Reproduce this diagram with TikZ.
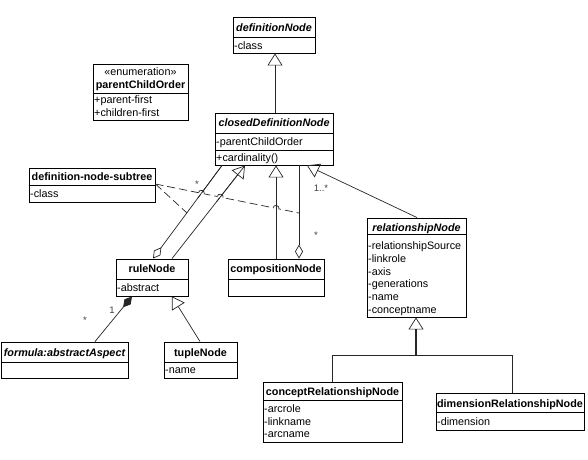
\documentclass[tikz,border=0pt]{standalone}
\usepackage{fontspec}
\setmainfont{Liberation Sans}
\usetikzlibrary{arrows.meta,fit,intersections,calc}
\newcommand\umlbox[5]{%
  \coordinate (#1-a) at (#2,#3); \coordinate (#1-b) at (#4,#5);
  \node[box, fit=(#1-a)(#1-b)] (#1) {};}
\begin{document}
\begin{tikzpicture}[x=1pt,y=-1pt,
  every node/.style={font=\fontsize{10.8}{12.8}\selectfont, inner sep=0pt},
  box/.style={draw=black, line width=0.9pt, inner sep=0pt},
  hdr/.style={anchor=base, font=\fontsize{10.8}{12.8}\selectfont\bfseries},
  ihdr/.style={anchor=base, font=\fontsize{10.8}{12.8}\selectfont\bfseries\itshape},
  attr/.style={anchor=base west},
  sepl/.style={draw=black, line width=0.8pt},
  conn/.style={draw=black!85, line width=0.7pt},
  gen/.style={conn, -{Triangle[open, width=15pt, length=12pt]}},
  agg/.style={conn, -{Diamond[open, width=8pt, length=14pt]}},
  comp/.style={conn, -{Diamond[width=8pt, length=14pt]}},
  mult/.style={font=\fontsize{9.5}{10}\selectfont, text=black!75},
  assoc/.style={conn, dash pattern=on 8pt off 4pt},
  hop/.style={conn},
]
\useasboundingbox (0,0) rectangle (588,459);
\fill[white] (0,0) rectangle (588,459);

% ---------- classes ----------
\umlbox{dn}{233}{17}{315}{53}
\draw[sepl] (dn.west |- 0,37) -- (dn.east |- 0,37);
\node[ihdr] (dnh) at (274,31) {definitionNode};
\node[attr] (dna) at (234,49) {-class};

\umlbox{pco}{93}{64}{188}{120}
\draw[sepl] (pco.west |- 0,93) -- (pco.east |- 0,93);
\node[anchor=base] (pcos) at (140.5,75) {«enumeration»};
\node[hdr] (pcoh) at (140.5,88) {parentChildOrder};
\node[attr] (pcoa) at (94,103) {+parent-first};
\node[attr] (pcob) at (94,116) {+children-first};

\umlbox{cdn}{215}{113}{333}{165}
\draw[sepl] (cdn.west |- 0,133) -- (cdn.east |- 0,133);
\draw[sepl] (cdn.west |- 0,150) -- (cdn.east |- 0,150);
\node[ihdr] (cdnh) at (274,126) {closedDefinitionNode};
\node[attr] (cdna) at (216,145) {-parentChildOrder};
\node[attr] (cdnb) at (216,161) {+cardinality()};

\umlbox{sub}{29}{168}{155}{202}
\draw[sepl] (sub.west |- 0,185) -- (sub.east |- 0,185);
\node[hdr] (subh) at (92,180) {definition-node-subtree};
\node[attr] (suba) at (30,197) {-class};

\umlbox{rule}{116}{259}{188}{296}
\draw[sepl] (rule.west |- 0,279) -- (rule.east |- 0,279);
\node[hdr] (ruleh) at (152,272) {ruleNode};
\node[attr] (rulea) at (117,291) {-abstract};

\umlbox{compn}{228}{259}{324}{296}
\draw[sepl] (compn.west |- 0,279) -- (compn.east |- 0,279);
\node[hdr] (compnh) at (276,272) {compositionNode};

\umlbox{form}{1}{342}{128}{378}
\draw[sepl] (form.west |- 0,362) -- (form.east |- 0,362);
\node[ihdr] (formh) at (64.5,356) {formula:abstractAspect};

\umlbox{tuple}{164}{342}{237}{378}
\draw[sepl] (tuple.west |- 0,362) -- (tuple.east |- 0,362);
\node[hdr] (tupleh) at (200.5,356) {tupleNode};
\node[attr] (tuplea) at (165,373) {-name};

\umlbox{rel}{367}{218}{466}{317}
\draw[sepl] (rel.west |- 0,234) -- (rel.east |- 0,234);
\node[ihdr] (relh) at (416.5,231) {relationshipNode};
\node[attr] (rela) at (368,249) {-relationshipSource};
\node[attr] (relb) at (368,262) {-linkrole};
\node[attr] (relc) at (368,275) {-axis};
\node[attr] (reld) at (368,287) {-generations};
\node[attr] (rele) at (368,300) {-name};
\node[attr] (relf) at (368,313) {-conceptname};

\umlbox{crn}{263}{382}{402}{442}
\draw[sepl] (crn.west |- 0,400) -- (crn.east |- 0,400);
\node[hdr] (crnh) at (332.5,395) {conceptRelationshipNode};
\node[attr] (crna) at (264,412) {-arcrole};
\node[attr] (crnb) at (264,425) {-linkname};
\node[attr] (crnc) at (264,437) {-arcname};

\umlbox{drn}{436}{393}{584}{430}
\draw[sepl] (drn.west |- 0,412) -- (drn.east |- 0,412);
\node[hdr] (drnh) at (510,407) {dimensionRelationshipNode};
\node[attr] (drna) at (437,425) {-dimension};

% ---------- connectors ----------
\draw[gen] (cdn.north -| 275,0) -- (dn.south -| 275,0);

\draw[agg, name path=ragg] (222,0 |- cdn.south) -- (153,0 |- rule.north);
\draw[gen, name path=rgen] (172,0 |- rule.north) -- (245,0 |- cdn.south);
\draw[gen, name path=cgen] (276,0 |- compn.north) -- (276,0 |- cdn.south);
\draw[agg] (299,0 |- cdn.south) -- (299,0 |- compn.north);
\draw[gen] (417,0 |- rel.north) -- (307,0 |- cdn.south);

\draw[comp] (95,0 |- form.north) -- (132,0 |- rule.south);
\draw[gen] (200,0 |- tuple.north) -- (172,0 |- rule.south);

\coordinate (tj) at (416,355);
\draw[gen] (tj) -- (rel.south -| tj);
\draw[conn, line width=1.6pt] (tj) -- (416,329);
\draw[conn] (crn.north -| 332,0) |- (tj);
\draw[conn] (drn.north -| 512,0) |- (tj);

% association class links (dashed)
\coordinate (subp) at (sub.east |- 0,184);
\coordinate (ra1) at (187,213);
\coordinate (ca1) at (299,213);
\draw[assoc, name path=d2] (subp) -- (ca1);
\draw[assoc] (subp) -- (ra1);

\path[name intersections={of=d2 and ragg, by={h1}}];
\path[name intersections={of=d2 and rgen, by={h2}}];
\path[name intersections={of=d2 and cgen, by={h3}}];
\foreach \h in {h1,h2,h3}{
  \fill[white, rotate around={-11.4:(\h)}] ($(\h)+(-3,-0.8)$) rectangle ($(\h)+(3,0.8)$);
  \draw[hop, rotate around={-11.4:(\h)}] ($(\h)+(-3,0)$) arc[start angle=180, end angle=360, radius=3];
}
\draw[conn] (222,0 |- cdn.south) -- (h1);
\draw[conn] (h2) -- (245,0 |- cdn.south);
\draw[conn] (h3) -- ($(h3)+(0,-10)$);
\draw[conn] (h3) -- ($(h3)+(0,10)$);
\draw[conn] (h1) -- ($(h1)!6pt!(153,0 |- rule.north)$);
\draw[conn] (h2) -- ($(h2)!6pt!(172,0 |- rule.north)$);

% multiplicities
\node[mult] (m1) at (197,184) {*};
\node[mult] (m2) at (316,235) {*};
\node[mult] (m3) at (321,188) {1..*};
\node[mult] (m4) at (112,310) {1};
\node[mult] (m5) at (85,320) {*};
\end{tikzpicture}
\end{document}
